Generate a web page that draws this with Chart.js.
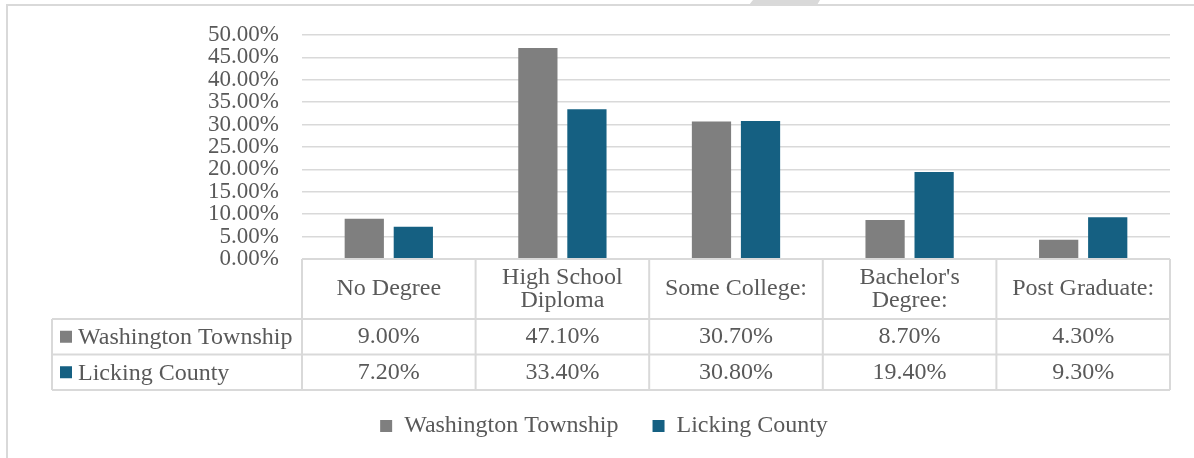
<!DOCTYPE html>
<html>
<head>
<meta charset="utf-8">
<script src="https://cdn.jsdelivr.net/npm/chart.js@4.4.1/dist/chart.umd.min.js"></script>
<style>
  html, body { margin: 0; padding: 0; background: #fff; }
</style>
</head>
<body>
<canvas id="chart_main" width="1194" height="458"></canvas>
<script>
"use strict";

// データ
const categories   = [['No Degree'], ['High School', 'Diploma'], ['Some College:'], ["Bachelor's", 'Degree:'], ['Post Graduate:']];
const series_names = ['Washington Township', 'Licking County'];
const washington   = [9.0, 47.1, 30.7, 8.7, 4.3];
const licking      = [7.2, 33.4, 30.8, 19.4, 9.3];
const series_color = ['#7f7f7f', '#156082'];
const y_max = 50, y_step = 5;

const txt_color  = '#595959',
      line_color = '#d9d9d9',
      font_fam   = '"Liberation Serif", "Times New Roman", serif';

const pct = v => v.toFixed(2) + '%';

Chart.defaults.font.family = font_fam;
Chart.defaults.color = txt_color;

// 枠
const framePlugin = {
  id: 'frame',
  beforeDraw(chart) {
    const {ctx, width, height} = chart;
    ctx.save();
    ctx.strokeStyle = line_color;
    ctx.lineWidth = 2;
    ctx.beginPath();
    ctx.moveTo(7, height);
    ctx.lineTo(7, 5);
    ctx.lineTo(width, 5);
    ctx.stroke();
    ctx.fillStyle = line_color;
    ctx.beginPath();
    ctx.moveTo(753, 0); ctx.lineTo(820, 0); ctx.lineTo(817, 5); ctx.lineTo(749, 5);
    ctx.closePath();
    ctx.fill();
    ctx.restore();
  }
};

// データテーブル
const tablePlugin = {
  id: 'dataTable',
  afterDraw(chart) {
    const {ctx, chartArea} = chart;
    const x = chart.scales.x;
    const n = chart.data.labels.length;
    const colW = x.width / n;
    const top = chartArea.bottom, hdrH = 60, rowH = 35.5;
    const bottom = top + hdrH + rowH * 2;
    const rowLeft = 52;

    ctx.save();
    ctx.strokeStyle = line_color;
    ctx.lineWidth = 2;
    ctx.beginPath();
    ctx.moveTo(x.left, top); ctx.lineTo(x.right, top);
    for (let r = 0; r < 3; r++) {
      const yy = top + hdrH + rowH * r;
      ctx.moveTo(rowLeft, yy); ctx.lineTo(x.right, yy);
    }
    for (let i = 0; i <= n; i++) {
      const xx = x.left + colW * i;
      ctx.moveTo(xx, top); ctx.lineTo(xx, bottom);
    }
    ctx.moveTo(rowLeft, top + hdrH); ctx.lineTo(rowLeft, bottom);
    ctx.stroke();

    ctx.font = '24px ' + font_fam;
    ctx.fillStyle = txt_color;
    ctx.textAlign = 'center';
    ctx.textBaseline = 'middle';
    // 見出し
    categories.forEach((lines, i) => {
      const cx = x.getPixelForValue(i);
      const lh = 23;
      const y0 = top + hdrH / 2 - (lines.length - 1) * lh / 2;
      lines.forEach((t, k) => ctx.fillText(t, cx, y0 + k * lh));
    });
    // 値
    chart.data.datasets.forEach((ds, r) => {
      const cy = top + hdrH + rowH * r + rowH / 2;
      ds.data.forEach((v, i) => ctx.fillText(pct(v), x.getPixelForValue(i), cy));
      ctx.textAlign = 'left';
      ctx.fillStyle = ds.backgroundColor;
      ctx.fillRect(60, cy - 6, 12, 12);
      ctx.fillStyle = txt_color;
      ctx.fillText(ds.label, 78, cy + 1);
      ctx.textAlign = 'center';
    });
    ctx.restore();
  }
};

const ctx = document.getElementById('chart_main');
const chart = new Chart(ctx, {
  type: 'bar',
  data: {
    labels: categories.map(c => c.join(' ')),
    datasets: [
      { label: series_names[0], data: washington, backgroundColor: series_color[0] },
      { label: series_names[1], data: licking,    backgroundColor: series_color[1] },
    ],
  },
  options: {
    responsive: false,
    animation: false,
    devicePixelRatio: 1,
    datasets: { bar: { barPercentage: 0.8, categoryPercentage: 0.565, borderWidth: 0 } },
    layout: { padding: { top: 35, right: 24, bottom: 10, left: 38 } },
    scales: {
      x: {
        grid: { display: false },
        border: { display: false },
        ticks: { display: false },
        afterFit(s) { s.height = 121; },
      },
      y: {
        min: 0, max: y_max,
        grid: { color: line_color, lineWidth: 1.5, drawTicks: false },
        border: { display: false },
        ticks: {
          stepSize: y_step, autoSkip: false, padding: 23,
          font: { size: 23, lineHeight: 1 }, color: txt_color,
          callback: v => pct(v),
        },
        afterFit(s) { s.width = 264; },
      },
    },
    plugins: {
      tooltip: { enabled: false },
      legend: {
        position: 'bottom',
        labels: { boxWidth: 12, boxHeight: 12, padding: 34, color: txt_color, font: { size: 24 } },
      },
    },
  },
  plugins: [framePlugin, tablePlugin],
});
</script>
</body>
</html>
